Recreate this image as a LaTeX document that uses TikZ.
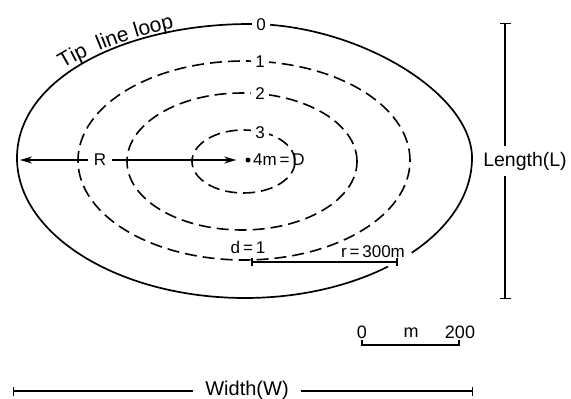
\documentclass[tikz,border=0pt]{standalone}
\usepackage{fontspec}
\setmainfont{Liberation Sans}
\usetikzlibrary{arrows.meta,decorations.text}
\begin{document}
\begin{tikzpicture}[x=1pt,y=-1pt,
  solidline/.style={line width=1.7pt},
  dashline/.style={line width=1.6pt, dash pattern=on 12pt off 6pt},
  lbl/.style={font=\fontsize{17}{20}\selectfont, inner sep=1pt},
  numlbl/.style={lbl, fill=white, inner xsep=4pt, inner ysep=1pt},
  biglbl/.style={font=\fontsize{19.5}{23}\selectfont, inner sep=1pt},
  arr/.style={line width=1.5pt, -{Stealth[length=12pt,width=7pt]}},
  barline/.style={line width=1.3pt}
]
\useasboundingbox (0,0) rectangle (571,399);

% outer tip line loop (solid), open near r = 300 m
\begin{scope}[even odd rule]
  \clip (0,0) rectangle (571,399) (400,260) circle[radius=14pt];
  \draw[solidline] (17,158)
    .. controls (17,78) and (125,24) .. (250,24)
    .. controls (357,24) and (472,93) .. (472,158)
    .. controls (472,235) and (370,298) .. (245,298)
    .. controls (119.6,298) and (17,235) .. cycle;
\end{scope}

% dashed contours
\draw[dashline] (244,160.5) ellipse[x radius=166pt, y radius=99.5pt];
\draw[dashline] (242,161.5) ellipse[x radius=115pt, y radius=68.5pt];
\draw[dashline] (243.5,161.5) ellipse[x radius=51.5pt, y radius=31.5pt];

% contour labels
\node[numlbl] (n0) at (261,25) {0};
\node[numlbl] (n1) at (260,62) {1};
\node[numlbl] (n2) at (260,94) {2};
\node[numlbl] (n3) at (260,133) {3};

% Tip line loop text
\path[decorate, decoration={text along path, text align=left,
  text={|\fontsize{21}{25}\selectfont|Tip\ \ line loop}}]
  (63,69) .. controls (95,49) and (150,30) .. (215,20);

% R arrows
\node[lbl, inner xsep=6pt] (R) at (100,160) {R};
\coordinate (tipL) at (20,160);
\node[circle, fill, inner sep=0pt, minimum size=5pt] (dot) at (248,160) {};
\draw[arr] (R.west) -- (tipL);
\draw[arr, shorten >=9pt] (R.east) -- (dot.west);
\node[lbl, anchor=west] (D) at (252,160) {4m\,=\,D};

% Length
\coordinate (Ltop) at (505,23);
\coordinate (Lbot) at (505,299);
\node[biglbl, inner ysep=6pt] (L) at (525,161) {Length(L)};
\draw[barline, {Bar[width=11pt]}-] (Ltop) -- (Ltop |- L.north);
\draw[barline, -{Bar[width=11pt]}] (Lbot |- L.south) -- (Lbot);

% d = 1 and r = 300 m
\coordinate (d1) at (251,262);
\coordinate (rend) at (398,262);
\draw[line width=2pt, {Bar[width=8pt]}-{Bar[width=8pt]}] (d1) -- (rend);
\node[lbl] (dl) at (248,247) {d\,=\,1};
\node[lbl] (rl) at (373,252) {r\,=\,300m};

% scale bar
\node[lbl, font=\fontsize{18}{21}\selectfont] (s0) at (362,332) {0};
\node[lbl, font=\fontsize{18}{21}\selectfont] (sm) at (411,333) {m};
\node[lbl, font=\fontsize{18}{21}\selectfont] (s200) at (460,332) {200};
\coordinate (sa) at (362,345);
\coordinate (sb) at (459,345);
\draw[line width=1.2pt] (sa) ++(0,-5) -- (sa) -- (sb) -- ++(0,-5);

% Width
\coordinate (Wl) at (13,391);
\coordinate (Wr) at (473,391);
\node[biglbl, font=\fontsize{20}{24}\selectfont, inner xsep=12pt] (W) at (247,390) {Width(W)};
\draw[barline, {Bar[width=9pt]}-] (Wl) -- (W.west |- Wl);
\draw[barline, -{Bar[width=9pt]}] (W.east |- Wr) -- (Wr);
\end{tikzpicture}
\end{document}
